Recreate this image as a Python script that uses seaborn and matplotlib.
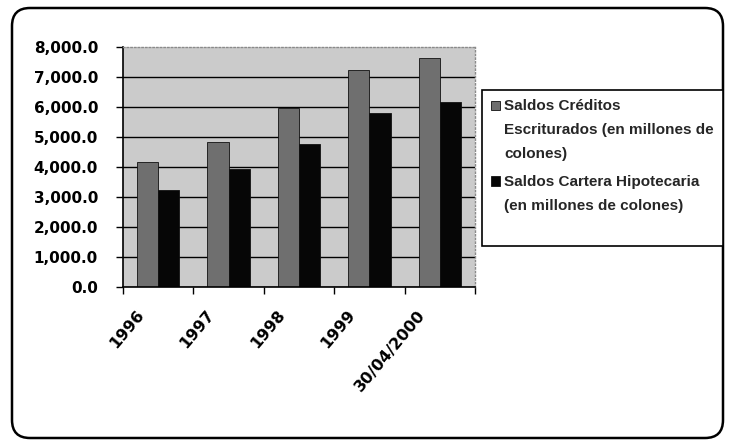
import matplotlib
matplotlib.use('Agg')
import matplotlib.pyplot as plt
import matplotlib.transforms as mtransforms
from matplotlib.patches import FancyBboxPatch, Rectangle
from matplotlib.legend_handler import HandlerPatch
from matplotlib.ticker import FuncFormatter
import seaborn as sns
import pandas as pd

# ---- data ----
categories = ['1996', '1997', '1998', '1999', '30/04/2000']
creditos = [4150, 4840, 5950, 7230, 7620]
cartera = [3230, 3930, 4770, 5810, 6180]
series_names = ['Saldos Créditos\nEscriturados (en millones de\ncolones)',
                'Saldos Cartera Hipotecaria\n(en millones de colones)\n']
yticks = [0, 1000, 2000, 3000, 4000, 5000, 6000, 7000, 8000]

df = pd.DataFrame({
    'Periodo': categories * 2,
    'Serie': [series_names[0]] * len(categories) + [series_names[1]] * len(categories),
    'Valor': creditos + cartera,
})

sns.set_theme(style='white')
plt.rcParams['font.family'] = ['DejaVu Sans']
plt.rcParams['font.weight'] = 'bold'

W, H = 731, 444
fig = plt.figure(figsize=(W / 100, H / 100), dpi=100)
fig.patch.set_facecolor('white')
ax = fig.add_axes([123 / W, 1 - 287 / H, (475 - 123) / W, (287 - 47) / H])

sns.barplot(data=df, x='Periodo', y='Valor', hue='Serie',
            palette=['#6f6f6f', '#060606'], saturation=1,
            width=0.6, gap=0, edgecolor='#111111', linewidth=0.6,
            ax=ax, legend=True)
handles, labels = ax.get_legend_handles_labels()
ax.get_legend().remove()

ax.set_xlim(-0.5, len(categories) - 0.5)
ax.set_ylim(yticks[0], yticks[-1])
ax.set_facecolor('#cbcbcb')
ax.set_xlabel('')
ax.set_ylabel('')

# y axis
ax.set_yticks(yticks)
ax.yaxis.set_major_formatter(FuncFormatter(lambda v, p: f'{v:,.1f}'))
ax.tick_params(axis='y', which='major', left=True, length=5, width=1,
               color='black', direction='out', pad=13, labelsize=11,
               labelcolor='black')
ax.set_axisbelow(True)
ax.grid(axis='y', color='black', linewidth=1)
ax.grid(axis='x', visible=False)
gl = ax.yaxis.get_gridlines()
gl[-1].set_visible(False)

# x axis
ax.set_xticks(range(len(categories)))
ax.set_xticklabels(categories)
ax.set_xticks([i - 0.5 for i in range(len(categories) + 1)], minor=True)
ax.tick_params(axis='x', which='major', length=0, pad=18, labelsize=11.5,
               labelcolor='black')
ax.tick_params(axis='x', which='minor', bottom=True, length=5, width=1,
               color='black', direction='out')
offset = mtransforms.ScaledTranslation(-0.17, 0, fig.dpi_scale_trans)
for lbl in ax.get_xticklabels():
    lbl.set_rotation(50)
    lbl.set_ha('right')
    lbl.set_va('center')
    lbl.set_rotation_mode('anchor')
    lbl.set_transform(lbl.get_transform() + offset)

for side in ['left', 'bottom']:
    ax.spines[side].set_color('black')
    ax.spines[side].set_linewidth(1.2)
for side in ['top', 'right']:
    ax.spines[side].set_color('#8a8a8a')
    ax.spines[side].set_linewidth(1)
    ax.spines[side].set_linestyle(':')

# legend: handle aligned with first text line
LINE_PT = 17.8


def top_patch(legend, orig_handle, xdescent, ydescent, width, height, fontsize):
    return Rectangle((-xdescent, -ydescent + LINE_PT), width, height)


hmap = {h: HandlerPatch(patch_func=top_patch) for h in handles}
leg = fig.legend(handles, labels, loc='upper left',
                 bbox_to_anchor=(482 / W, 0, (723 - 482) / W, 1 - 90 / H),
                 mode='expand', borderaxespad=0, handler_map=hmap,
                 prop={'family': 'Liberation Sans', 'weight': 'bold', 'size': 11},
                 frameon=True, fancybox=False, framealpha=1,
                 edgecolor='black', borderpad=0.6, labelspacing=0.9,
                 handlelength=0.55, handleheight=0.55, handletextpad=0.3)
leg.get_frame().set_linewidth(1.2)
for t in leg.get_texts():
    t.set_linespacing(1.9)

# outer rounded border
border = FancyBboxPatch((12, 6), 711, 430,
                        boxstyle='round,pad=0,rounding_size=18',
                        transform=mtransforms.IdentityTransform(),
                        fill=False, edgecolor='black', linewidth=1.8)
fig.patches.append(border)

fig.savefig('out.png', dpi=100)
